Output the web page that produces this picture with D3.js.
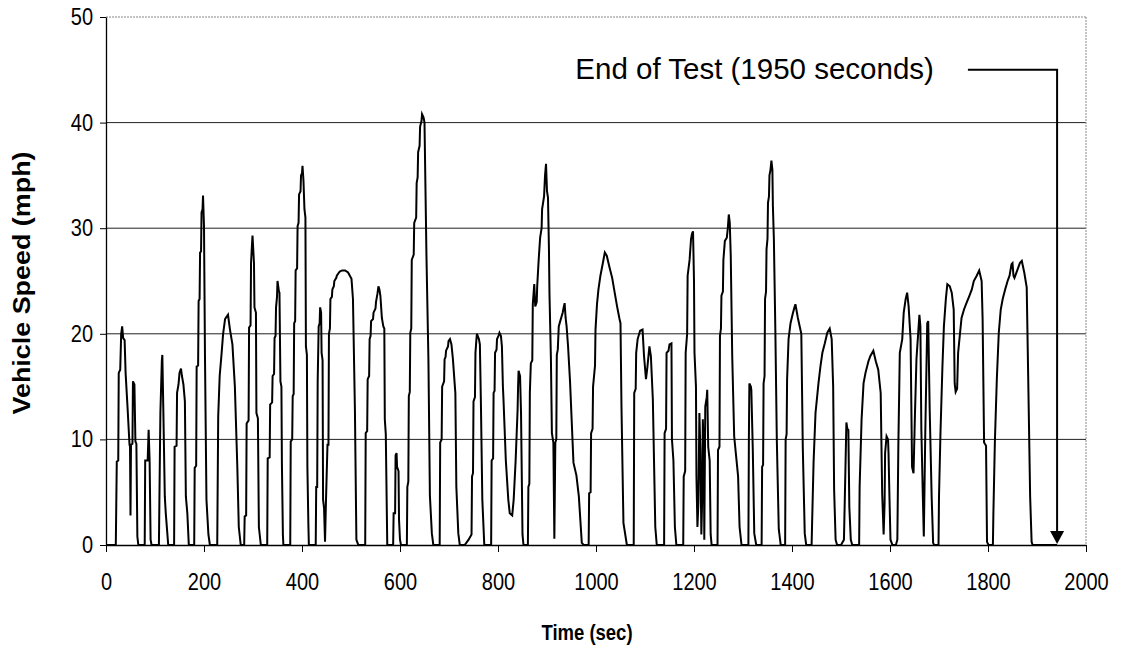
<!DOCTYPE html>
<html>
<head>
<meta charset="utf-8">
<script src="https://cdn.jsdelivr.net/npm/d3@7"></script>
<style>
  html, body { margin: 0; padding: 0; background: #fff; }
  svg { display: block; }
  text { font-family: "Liberation Sans", Arial, sans-serif; fill: #000; }
  .tick text { transform-box: fill-box; transform-origin: center; transform: scaleY(1.15); }
</style>
</head>
<body>
<svg id="chart" width="1122" height="651"></svg>
<script>
// ---- Data ----
const xTickValues = [0, 200, 400, 600, 800, 1000, 1200, 1400, 1600, 1800, 2000];
const yTickValues = [0, 10, 20, 30, 40, 50];
const xTitle = "Time (sec)";
const yTitle = "Vehicle Speed (mph)";
const annotationText = "End of Test (1950 seconds)";
const endOfTestTime = 1941;   // where the arrow lands on the time axis
const annotationSpeed = 45;   // height of the annotation leader line
const annotationLineStart = 1759;

const timeSec = [
  0,20,22,25,26,29,31,33,35,38,40,44,48,49,50,51,54,55,58,60,62,64,66,
  79,80,85,87,89,91,93,
  108,109,111,114,115,117,120,122,127,
  139,140,144,145,148,150,153,155,158,161,163,166,169,
  180,181,184,185,188,189,191,192,194,195,197,198,200,202,205,209,212,
  227,229,232,236,239,243,246,249,253,258,263,268,271,275,
  282,283,286,287,291,292,295,296,298,299,302,303,306,307,310,312,316,
  329,330,334,335,339,340,343,344,346,347,349,350,353,354,356,358,359,361,362,
  376,377,380,381,383,384,386,387,390,391,393,394,397,398,400,401,403,405,407,408,410,411,413,414,
  428,429,431,432,434,436,437,439,440,442,443,445,447,449,452,454,455,457,458,461,462,465,466,470,471,477,482,488,494,501,504,508,511,515,
  529,530,533,534,537,538,540,541,545,546,550,551,554,556,558,560,563,566,568,569,571,574,
  586,587,590,591,593,594,597,598,600,602,
  614,615,617,618,620,621,623,624,628,629,633,634,636,637,640,641,644,645,648,650,652,654,658,661,665,668,
  681,682,685,686,690,691,693,694,698,699,702,705,708,712,713,715,719,722,
  732,740,746,747,749,750,753,754,756,757,761,763,765,768,772,
  786,787,790,791,793,794,797,798,801,803,806,808,810,811,816,821,824,829,832,836,840,841,842,845,847,850,852,
  861,862,864,865,867,870,871,874,876,879,880,883,886,889,890,894,896,898,900,902,904,905,908,910,913,915,917,919,920,922,924,927,932,934,936,938,940,943,947,954,960,965,968,971,975,
  985,986,989,990,993,994,998,999,1002,1005,1009,1014,1018,1022,1027,1033,1037,1043,1048,1050,1052,1056,1063,
  1077,1078,1081,1082,1085,1090,1095,1098,1102,1105,1109,1112,1116,1121,1124,
  1139,1140,1143,1144,1148,1150,1154,1155,1158,1161,1164,
  1178,1179,1182,1183,1186,1187,1191,1194,1196,1198,1200,1201,1204,1205,1207,1209,1211,1213,1215,1217,1218,1220,1221,1223,1226,1227,1229,1232,1234,1236,
  1248,1249,1252,1253,1255,1256,1259,1260,1263,1267,1269,1271,1273,1275,1278,1282,1286,1290,1293,1297,
  1311,1312,1313,1316,1317,1320,1323,1327,
  1338,1339,1341,1342,1344,1345,1347,1348,1350,1351,1353,1354,1356,1358,1360,1361,1363,1366,1369,1373,1377,
  1386,1387,1389,1390,1393,1397,1402,1405,1407,1412,1419,1422,1426,1429,
  1440,1441,1444,1448,1454,1458,1462,1467,1472,1477,1481,1484,1486,1489,1492,
  1500,1506,1509,1511,1513,1515,1517,1520,1523,
  1537,1538,1542,1546,1550,1556,1560,1566,1571,1576,1581,1584,1587,1589,1590,1593,1596,1597,1599,1601,1605,
  1612,1615,1617,1620,1625,1628,1632,1635,1638,1642,1645,1648,1651,1654,1658,1660,1662,1664,1667,1669,1672,1676,1678,1681,1685,1688,1690,
  1699,1700,1703,1707,1710,1714,1717,1722,1726,1730,1732,1734,1737,1739,1743,1746,1751,1756,1762,1767,1771,1777,1782,1787,1789,1792,1796,1798,1801,
  1810,1811,1814,1818,1822,1826,1830,1835,1840,1844,1848,1850,1852,1854,1858,1865,1869,1874,1879,1882,1886,1889,1891,1941
];

const speedMph = [
  0,0,7.9,8,16.3,16.6,20,20.7,19.6,19.4,16.3,13,9.5,9.3,2.8,9.5,9.6,15.5,15.2,9.8,9.6,0.8,0,
  0,8,8,10.9,8,0.5,0,
  0,4.3,12.5,17.5,18,12.8,4.6,3,0,
  0,9.3,9.4,14.4,15.2,16.3,16.7,16,15.2,13.6,4.6,3,0,
  0,7.3,7.5,16.9,17,23.1,23.3,27.7,27.8,31.5,31.8,33.1,30.2,17.9,4.3,1,0,
  0,12.2,16,18.2,20,21.4,21.6,21.8,20.4,19,15,7.4,1.7,0,
  0,2.7,2.8,11.5,11.8,20.6,20.8,26.7,28.5,29.3,26.7,22.5,22,12.5,12,1.7,0,
  0,8.2,8.3,13.3,13.5,16,16.2,19.6,19.8,22.5,23.5,25,24,23.9,15.5,15,7.7,1,0,
  0,9.8,10,14.1,14.3,21,21.2,26,26.2,30.2,30.5,33.2,33.5,35,35.2,35.9,34.5,31.8,31,18.8,18,7.4,2,0,
  0,5.5,5.5,15.5,20.7,21,22.5,22,18.2,17.5,4.3,3.5,0.3,4.3,9.5,9.5,20,20.5,23.3,23.5,24.2,24.5,25,25.3,25.5,25.9,26,26,25.8,25.2,23.3,12.8,0.5,0,
  0,10.6,10.8,15.7,16,19.5,19.8,21.2,21.4,22,22.4,23,23.8,24.5,24.2,23.6,21.5,20.7,20.5,11.9,10.5,0,
  0,3,3,8.5,8.7,7.4,7,2.4,0.5,0,
  0,5.5,6,14.1,14.5,20.1,20.5,27,27.5,30.5,31,34.3,34.8,37.2,37.8,39.6,40.2,40.8,40.5,40,33.7,27.4,17.6,4.7,1.1,0,
  0,9.7,10,15,15.5,17.6,17.8,18.4,18.8,19.3,19.5,19,17.6,15,14.4,5.5,1.1,0,
  0,0.5,1,6.5,6.8,13.6,14,18.2,19.5,20,19.5,19,13.8,4.3,0,
  0,8,8.2,14.4,14.6,18.2,18.5,19.5,19.8,20.1,19.8,18.8,15,14,8,4.3,3,2.8,4.3,8,12.8,15,16.5,16,12.5,1,0,
  0,5.5,5.8,14.4,17.2,17.5,22.8,24.7,22.6,23,24.5,27,29.1,30,31.8,33,35,36.1,33.5,32.9,28,23.9,17.6,10.6,9.7,0.6,9.7,10,18,18.5,20.7,21.2,22,22.5,22.9,21.5,20.7,18.8,15.5,7.8,6.6,4.6,2.4,0.2,0,
  0,4.9,5,10.6,11,15,17,20.4,22.8,24.2,25.5,26.7,27.7,27.4,26.4,25.3,24.2,22.6,21.4,21,13.1,2.1,0,
  0,14.4,14.8,18.2,19.5,20.3,20.4,17.9,15.7,16.9,18.8,17.9,13.8,1.7,0,
  0,10.6,11,18.2,18.4,19,19.1,10,8,1.7,0,
  0,6.5,7,18.2,20,25.5,27,29,29.5,29.7,25,18.2,15,6.5,1.7,4,12.5,9,1,5,11.9,9,0.5,13.1,14,14.7,9.3,8,1,0,
  0,9,9.3,19.8,20.5,23.6,24,27,28.8,29.1,30,31.3,30.5,27.4,17.9,10.3,8.4,6.5,1.7,0,
  0,10,15.3,15,14.7,9,1.1,0,
  0,7.4,7.6,15.3,16,23.3,24,28,29,32.4,33,35,35.5,36.4,35.5,32.1,29,20.4,10,1.5,0,
  0,10,10.5,15.7,19.5,21,22,22.5,22.8,21.5,20,9.3,1.1,0,
  0,2,7.8,12.5,15.3,16.9,18.2,19.1,20.1,20.5,19.5,15,5.2,0.5,0,
  0,0.5,7.1,11.6,11,10.9,3.6,0.5,0,
  0,5.5,11.9,15.3,16.3,17.4,17.9,18.4,17.4,16.6,14.4,4.9,1,4,8.7,10.3,10,8.7,4.3,0.5,0,
  0,0.5,9.3,18.2,19.5,22,23.3,23.9,22.6,19.5,7.4,6.8,12.5,17.6,20.4,21.8,20.7,10.9,4.6,0.8,10.6,21,21.2,12.8,4.6,0.2,0,
  0,4.6,10.6,16.9,20.7,23.3,24.7,24.5,23.9,22.3,15.3,14.5,14.8,18.2,20.1,21.5,22.3,22.9,23.6,24.2,25,25.5,26,25,21.4,9.7,9.4,0.3,0,
  0,3,9.7,15.7,20.1,22.3,23.3,24.2,25,25.5,26.6,26.7,25.5,25.3,25.8,26.7,26.9,25.8,24.4,16,4.6,0.3,0,0
];

if (timeSec.length !== speedMph.length) console.error("length mismatch", timeSec.length, speedMph.length);
const points = timeSec.map((t, i) => ({ t, v: speedMph[i] }));

// ---- Layout ----
const svg = d3.select("#chart");
const margin = { left: 106, right: 36, top: 17, bottom: 106 };
const W = 1122, H = 651;

const x = d3.scaleLinear().domain([0, 2000]).range([margin.left, W - margin.right]);
const y = d3.scaleLinear().domain([0, 50]).range([H - margin.bottom, margin.top]);

// Gridlines (10..40 solid)
svg.append("g").selectAll("line")
  .data(yTickValues.filter(d => d > 0 && d < 50))
  .join("line")
  .attr("x1", x(0)).attr("x2", x(2000))
  .attr("y1", d => y(d)).attr("y2", d => y(d))
  .attr("stroke", "#222").attr("stroke-width", 1);

// Top and right borders (dotted gray)
svg.append("line")
  .attr("x1", x(0)).attr("x2", x(2000)).attr("y1", y(50)).attr("y2", y(50))
  .attr("stroke", "#888").attr("stroke-width", 1).attr("stroke-dasharray", "2,1");
svg.append("line")
  .attr("x1", x(2000)).attr("x2", x(2000)).attr("y1", y(50)).attr("y2", y(0))
  .attr("stroke", "#888").attr("stroke-width", 1).attr("stroke-dasharray", "2,1");

// Axes
const fontSize = 20;
const xAxis = svg.append("g")
  .attr("transform", `translate(0,${y(0)})`)
  .call(d3.axisBottom(x).tickValues(xTickValues).tickSize(7).tickPadding(23).tickSizeOuter(0).tickFormat(d3.format("d")));
const yAxis = svg.append("g")
  .attr("transform", `translate(${x(0)},0)`)
  .call(d3.axisLeft(y).tickValues(yTickValues).tickSize(6).tickPadding(7).tickSizeOuter(0).tickFormat(d3.format("d")));
[xAxis, yAxis].forEach(g => {
  g.selectAll("path.domain").attr("stroke", "#000").attr("stroke-width", 1.3);
  g.selectAll(".tick line").attr("stroke", "#000").attr("stroke-width", 1);
  g.selectAll("text").attr("font-size", fontSize).attr("font-family", '"Liberation Sans", Arial, sans-serif').attr("fill", "#000");
});

// Axis titles
svg.append("text")
  .attr("transform", `translate(587,632) scale(1,1.2)`)
  .attr("dy", "0.35em")
  .attr("text-anchor", "middle").attr("font-weight", "bold").attr("font-size", 18.5)
  .text(xTitle);
svg.append("text")
  .attr("transform", `translate(22,${(y(0) + y(50)) / 2 + 2}) scale(1,1.17) rotate(-90)`)
  .attr("dy", "0.35em")
  .attr("text-anchor", "middle").attr("font-weight", "bold").attr("font-size", 23)
  .text(yTitle);

// Speed trace
svg.append("path")
  .datum(points)
  .attr("fill", "none")
  .attr("stroke", "#000")
  .attr("stroke-width", 2)
  .attr("stroke-linejoin", "miter")
  .attr("d", d3.line().x(d => x(d.t)).y(d => y(d.v)));

// Annotation
const ax = x(endOfTestTime), ay = y(annotationSpeed);
svg.append("text")
  .attr("x", x(annotationLineStart) - 34).attr("y", ay + 9)
  .attr("text-anchor", "end").attr("font-size", 29.5)
  .text(annotationText);
svg.append("path")
  .attr("d", `M${x(annotationLineStart)},${ay} H${ax} V${y(0) - 12}`)
  .attr("fill", "none").attr("stroke", "#000").attr("stroke-width", 2);
svg.append("path")
  .attr("d", `M${ax - 7},${y(0) - 14} L${ax + 7},${y(0) - 14} L${ax},${y(0) - 1} Z`)
  .attr("fill", "#000");
</script>
</body>
</html>
